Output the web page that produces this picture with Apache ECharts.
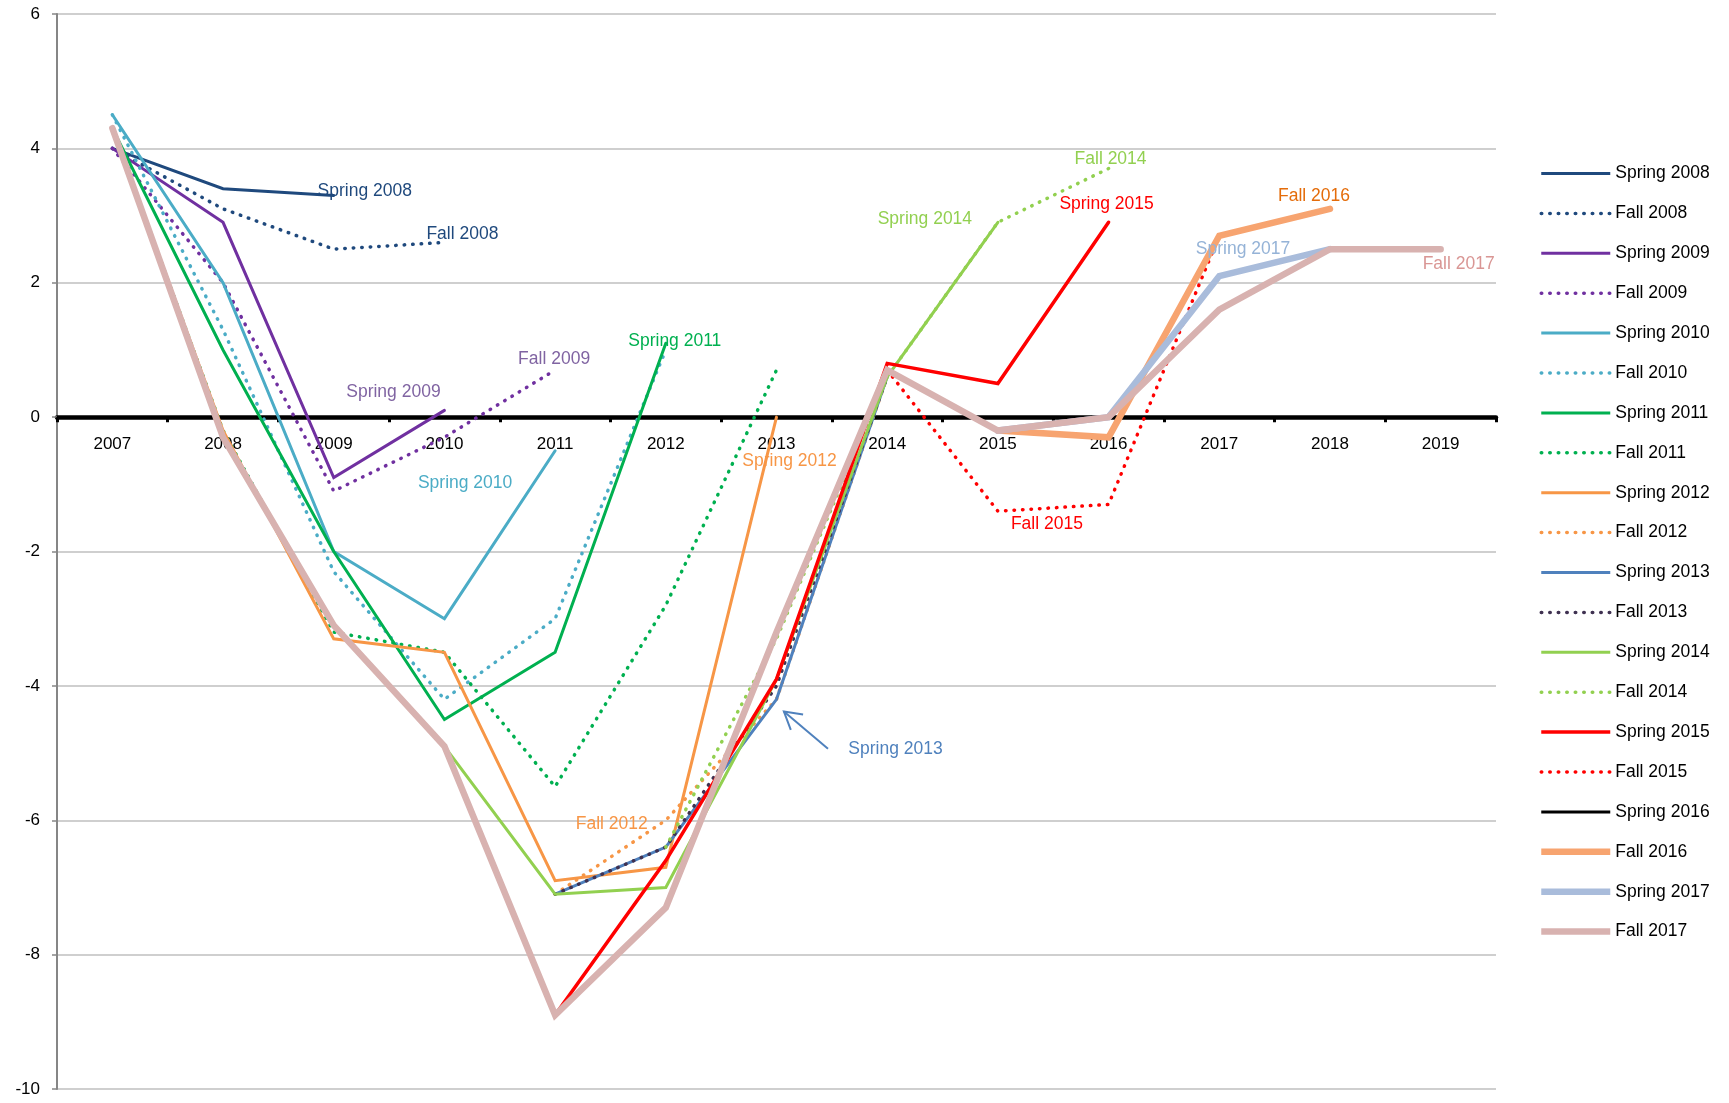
<!DOCTYPE html>
<html>
<head>
<meta charset="utf-8">
<title>Forecast vintages</title>
<script src="https://cdn.jsdelivr.net/npm/echarts@6/dist/echarts.min.js"></script>
<style>
  html, body { margin: 0; padding: 0; background: #fff; }
  #chart { width: 1729px; height: 1103px; }
</style>
</head>
<body>
<div id="chart"></div>
<script>
// categories
const years = ['2007', '2008', '2009', '2010', '2011', '2012', '2013', '2014', '2015', '2016', '2017', '2018', '2019']
const yTicks = { min: -10, max: 6, step: 2 }

// forecast vintages (null = not in that vintage)
const spring2008 = [4.0, 3.4, 3.3]
const fall2008 = [4.0, 3.1, 2.5, 2.6]
const spring2009 = [4.0, 2.9, -0.9, 0.1]
const fall2009 = [4.0, 2.0, -1.1, -0.3, 0.7]
const spring2010 = [4.5, 2.0, -2.0, -3.0, -0.5]
const fall2010 = [4.5, 1.3, -2.3, -4.2, -3.0, 1.0]
const spring2011 = [4.3, 1.0, -2.0, -4.5, -3.5, 1.1]
const fall2011 = [4.3, -0.2, -3.2, -3.5, -5.5, -2.8, 0.7]
const spring2012 = [4.3, -0.2, -3.3, -3.5, -6.9, -6.7, 0.0]
const fall2012 = [null, null, null, null, -7.1, -6.0, -4.2, 0.6]
const spring2013 = [null, null, null, null, -7.1, -6.4, -4.2, 0.6]
const fall2013 = [null, null, null, null, -7.1, -6.4, -4.0, 0.6]
const spring2014 = [null, null, null, -4.9, -7.1, -7.0, -3.9, 0.6, 2.9]
const fall2014 = [null, null, null, null, null, -6.4, -3.3, 0.6, 2.9, 3.7]
const spring2015 = [null, null, null, null, -8.9, -6.6, -3.9, 0.8, 0.5, 2.9]
const fall2015 = [null, null, null, null, null, null, null, 0.7, -1.4, -1.3, 2.7]
const spring2016 = [null, null, null, null, null, null, null, null, -0.2, -0.3, 2.7]
const fall2016 = [null, null, null, null, null, null, null, null, -0.2, -0.3, 2.7, 3.1]
const spring2017 = [null, null, null, null, null, null, null, null, -0.2, 0.0, 2.1, 2.5]
const fall2017 = [4.3, -0.3, -3.1, -4.9, -8.9, -7.3, -3.2, 0.7, -0.2, 0.0, 1.6, 2.5, 2.5]

const FONT = "'Liberation Sans', Arial, sans-serif"
const DOTS = [0.5, 8]

// name, data, colour, dotted?, width
const vintages = [
  ['Spring 2008', spring2008, '#1F497D', false, 3],
  ['Fall 2008', fall2008, '#1F497D', true, 3.5],
  ['Spring 2009', spring2009, '#7030A0', false, 3],
  ['Fall 2009', fall2009, '#7030A0', true, 3.5],
  ['Spring 2010', spring2010, '#4BACC6', false, 3],
  ['Fall 2010', fall2010, '#4BACC6', true, 3.5],
  ['Spring 2011', spring2011, '#00B050', false, 3],
  ['Fall 2011', fall2011, '#00B050', true, 3.5],
  ['Spring 2012', spring2012, '#F79646', false, 3],
  ['Fall 2012', fall2012, '#F79646', true, 3.5],
  ['Spring 2013', spring2013, '#4F81BD', false, 3],
  ['Fall 2013', fall2013, '#3F3151', true, 3.5],
  ['Spring 2014', spring2014, '#92D050', false, 3],
  ['Fall 2014', fall2014, '#92D050', true, 3.5],
  ['Spring 2015', spring2015, '#FF0000', false, 3.5],
  ['Fall 2015', fall2015, '#FF0000', true, 3.5],
  ['Spring 2016', spring2016, '#000000', false, 3],
  ['Fall 2016', fall2016, '#F7A470', false, 6.5],
  ['Spring 2017', spring2017, '#A9BCDB', false, 6.5],
  ['Fall 2017', fall2017, '#D8B2B0', false, 6.5]
]

// in-plot labels: series, year it hangs on, offset x/y, colour
const notes = [
  ['Spring 2008', '2009', 31, -4, '#1F497D'],
  ['Fall 2008', '2010', 18, -8, '#1F497D'],
  ['Spring 2009', '2010', -51, -18, '#8064A2'],
  ['Fall 2009', '2011', -1, -11, '#8064A2'],
  ['Spring 2010', '2011', -90, 32, '#4BACC6'],
  ['Spring 2011', '2012', 9, -2, '#00B050'],
  ['Spring 2012', '2013', 13, 44, '#F79646'],
  ['Fall 2012', '2012', -54, 4, '#F79646'],
  ['Spring 2013', '2013', 119, 50, '#4F81BD'],
  ['Spring 2014', '2015', -73, -3, '#92D050'],
  ['Fall 2014', '2016', 2, -9, '#92D050'],
  ['Spring 2015', '2016', -2, -18, '#FF0000'],
  ['Fall 2015', '2015', 49, 13, '#FF0000'],
  ['Fall 2016', '2018', -16, -13, '#E46C0A'],
  ['Spring 2017', '2018', -87, 0, '#95B3D7'],
  ['Fall 2017', '2019', 18, 15, '#D99694']
]

const chart = echarts.init(document.getElementById('chart'))

function lineStyleOf(color, dotted, width, cap) {
  return {
    color,
    width,
    type: dotted ? DOTS : 'solid',
    cap: dotted ? 'round' : cap,
    join: 'miter'
  }
}

const series = vintages.map(([name, data, color, dotted, width]) => {
  const marks = notes.filter(n => n[0] === name).map(n => {
    const idx = years.indexOf(n[1])
    return {
      coord: [idx, data[idx]],
      label: {
        show: true,
        formatter: name,
        position: 'inside',
        offset: [n[2], n[3]],
        color: n[4],
        fontFamily: FONT,
        fontSize: 17.5,
        align: 'center',
        verticalAlign: 'middle'
      }
    }
  })
  return {
    name,
    type: 'line',
    data,
    symbol: 'none',
    showSymbol: false,
    connectNulls: false,
    color,
    lineStyle: lineStyleOf(color, dotted, width, 'round'),
    markPoint: {
      symbol: 'circle',
      symbolSize: 1,
      silent: true,
      itemStyle: { color: 'rgba(0,0,0,0)' },
      data: marks
    }
  }
})

chart.setOption({
  animation: false,
  grid: { left: 57, right: 233, top: 14, bottom: 14, outerBoundsMode: 'none' },
  legend: {
    orient: 'vertical',
    left: 1533,
    top: 158.5,
    itemWidth: 69,
    itemHeight: 20,
    itemGap: 19.9,
    itemStyle: { opacity: 0 },
    textStyle: { fontFamily: FONT, fontSize: 17.5, color: '#000', lineHeight: 20 },
    data: vintages.map(([name, , color, dotted, width]) => ({
      name,
      lineStyle: lineStyleOf(color, dotted, width, 'butt'),
      itemStyle: { opacity: 0 }
    }))
  },
  xAxis: {
    type: 'category',
    data: years,
    boundaryGap: true,
    position: 'bottom',
    axisLine: { onZero: false, lineStyle: { color: '#000', width: 4.5 } },
    axisTick: { show: true, length: 5, lineStyle: { color: '#000', width: 3 } },
    axisLabel: { margin: 19, color: '#000', fontFamily: FONT, fontSize: 17 },
    splitLine: { show: false }
  },
  yAxis: {
    type: 'value',
    min: yTicks.min,
    max: yTicks.max,
    interval: yTicks.step,
    axisLine: { show: true, lineStyle: { color: '#868686', width: 2 } },
    axisTick: { show: true, length: 5, lineStyle: { color: '#868686', width: 1.5 } },
    axisLabel: { margin: 17, color: '#000', fontFamily: FONT, fontSize: 17 },
    splitLine: { lineStyle: { color: '#BFBFBF', width: 1.5 } }
  },
  series
})

// move the category axis (line, ticks, labels) up to the zero line
const zeroY = chart.convertToPixel({ yAxisIndex: 0 }, 0)
const bottomY = chart.convertToPixel({ yAxisIndex: 0 }, yTicks.min)
chart.setOption({ xAxis: { offset: zeroY - bottomY } })

// arrow pointing at the Spring 2013 line
const tip = chart.convertToPixel({ gridIndex: 0 }, [6, spring2013[6]])
const arrowColor = '#4F81BD'
chart.setOption({
  graphic: [
    {
      type: 'polyline',
      shape: { points: [[tip[0] + 51.5, tip[1] + 49.5], [tip[0] + 7.4, tip[1] + 12.2]] },
      style: { stroke: arrowColor, lineWidth: 2, fill: null },
      z: 10
    },
    {
      type: 'polyline',
      shape: { points: [[tip[0] + 26.6, tip[1] + 15.1], [tip[0] + 7.4, tip[1] + 12.2], [tip[0] + 14.3, tip[1] + 30.5]] },
      style: { stroke: arrowColor, lineWidth: 2, fill: null },
      z: 10
    }
  ]
})
</script>
</body>
</html>
